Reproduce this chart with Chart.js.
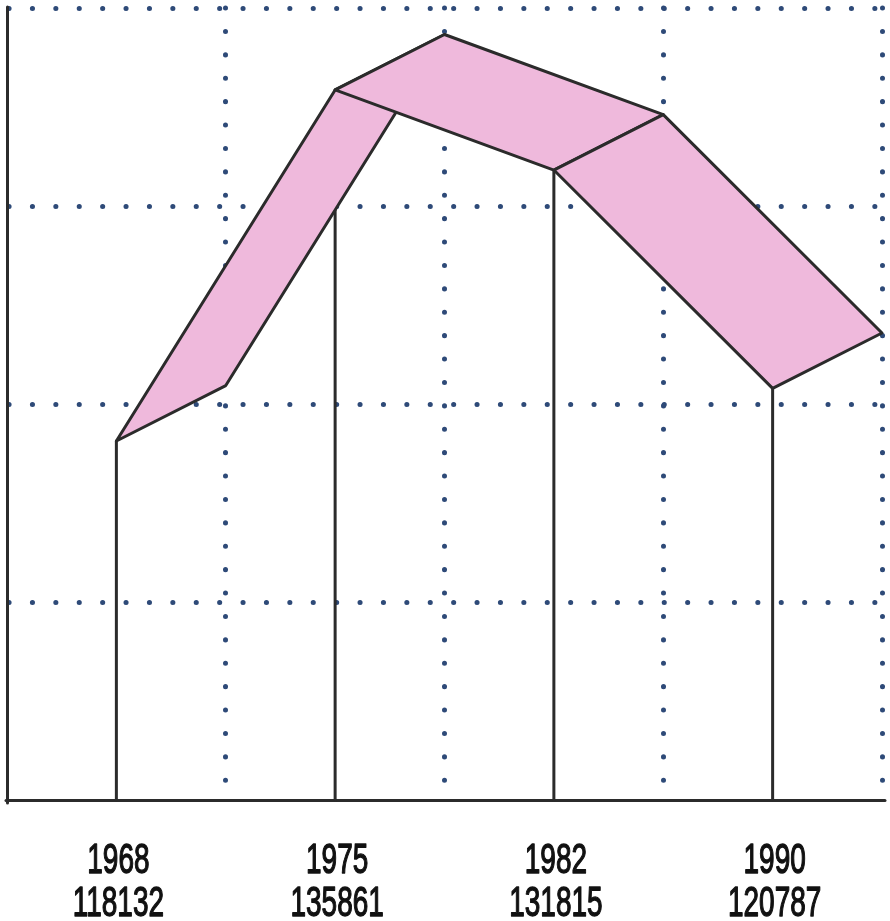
<!DOCTYPE html>
<html>
<head>
<meta charset="utf-8">
<script src="https://cdn.jsdelivr.net/npm/chart.js@4/dist/chart.umd.min.js"></script>
<style>
  html, body { margin: 0; padding: 0; background: #fff; }
  #wrap { width: 890px; height: 921px; }
</style>
</head>
<body>
<div id="wrap"><canvas id="chart"></canvas></div>
<script>
const years = ['1968', '1975', '1982', '1990']
const values = [118132, 135861, 131815, 120787]
const yTicks = [100000, 110000, 120000, 130000, 140000]

// depth of the ribbon: half a category to the right, this much up in value units
const DEPTH_X = 0.5
const DEPTH_Y = 2800

const PINK = '#efb9dc'
const EDGE = '#2b2b2b'
const DOTS = '#2e4a78'
const NONE = 'rgba(0,0,0,0)'

const labels = years.map((y, i) => [y, String(values[i])])

const ribbon = {
    id: 'ribbon',
    beforeDraw: (chart) => {
        // round dots for the dotted grid
        chart.ctx.lineCap = 'round'
    },
    afterDatasetsDraw: (chart) => {
        const ctx = chart.ctx
        const xs = chart.scales.x
        const ys = chart.scales.y
        const front = values.map((v, i) => [xs.getPixelForValue(i), ys.getPixelForValue(v)])
        const back = values.map((v, i) => [xs.getPixelForValue(i + DEPTH_X), ys.getPixelForValue(v + DEPTH_Y)])
        const base = ys.getPixelForValue(yTicks[0])

        ctx.save()
        ctx.setLineDash([])
        ctx.lineCap = 'round'
        ctx.lineJoin = 'round'
        ctx.strokeStyle = EDGE
        ctx.lineWidth = 3

        // drop lines
        front.forEach(p => {
            ctx.beginPath()
            ctx.moveTo(p[0], base)
            ctx.lineTo(p[0], p[1])
            ctx.stroke()
        })

        // ribbon faces
        for (let i = 0; i < front.length - 1; i++) {
            ctx.beginPath()
            ctx.moveTo(front[i][0], front[i][1])
            ctx.lineTo(front[i + 1][0], front[i + 1][1])
            ctx.lineTo(back[i + 1][0], back[i + 1][1])
            ctx.lineTo(back[i][0], back[i][1])
            ctx.closePath()
            ctx.fillStyle = PINK
            ctx.fill()
            ctx.stroke()
        }
        ctx.restore()
    },
    afterDraw: (chart) => {
        // condensed two-line category labels
        const ctx = chart.ctx
        const xs = chart.scales.x
        ctx.save()
        ctx.fillStyle = '#111'
        ctx.strokeStyle = '#111'
        ctx.lineWidth = 1.4
        ctx.lineJoin = 'round'
        ctx.font = '43px "Liberation Sans", sans-serif'
        ctx.textAlign = 'center'
        ctx.textBaseline = 'alphabetic'
        labels.forEach((lines, i) => {
            const x = xs.getPixelForTick(i) + 2
            lines.forEach((t, j) => {
                ctx.save()
                ctx.translate(x, xs.top + 73 + j * 43)
                ctx.scale(0.65, 1)
                ctx.fillText(t, 0, 0)
                ctx.strokeText(t, 0, 0)
                ctx.restore()
            })
        })
        ctx.restore()
    }
}

new Chart(document.getElementById('chart'), {
    type: 'line',
    data: {
        labels: labels,
        datasets: [
            {
                label: 'values',
                data: values,
                showLine: false,
                pointRadius: 0,
                borderColor: NONE,
            }
        ],
    },
    options: {
        responsive: true,
        maintainAspectRatio: false,
        animation: false,
        layout: { padding: { left: 7, top: 8, right: 8, bottom: 0 } },
        plugins: {
            legend: { display: false },
            tooltip: { enabled: false },
        },
        scales: {
            x: {
                type: 'category',
                offset: true,
                afterFit: (scale) => { scale.height = 121 },
                grid: {
                    offset: true,
                    color: (c) => c.index === 0 ? NONE : DOTS,
                    lineWidth: 5,
                    drawTicks: false,
                },
                border: { display: true, color: EDGE, width: 3, dash: [0.1, 23.3] },
                ticks: { display: false },
            },
            y: {
                min: yTicks[0],
                max: yTicks[yTicks.length - 1],
                afterBuildTicks: (scale) => { scale.ticks = yTicks.map(v => ({ value: v })) },
                grid: {
                    color: (c) => c.index === 0 ? NONE : DOTS,
                    lineWidth: 5,
                    drawTicks: false,
                },
                border: { display: true, color: EDGE, width: 3, dash: [0.1, 23.3] },
                ticks: { display: false },
            }
        }
    },
    plugins: [ribbon]
})
</script>
</body>
</html>
